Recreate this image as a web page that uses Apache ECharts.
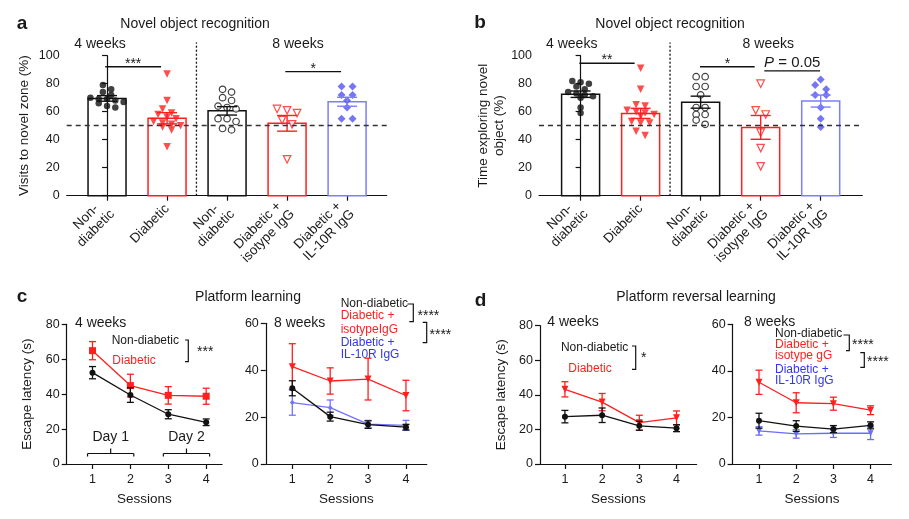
<!DOCTYPE html>
<html><head><meta charset="utf-8">
<script src="https://cdn.jsdelivr.net/npm/echarts@6/dist/echarts.min.js"></script>
<style>html,body{margin:0;padding:0;background:#fff}#c{width:909px;height:519px}</style>
</head><body><div id="c"></div>
<script>
// ================= DATA =================
const barLabels = ['Non-  \ndiabetic', 'Diabetic', 'Non-  \ndiabetic', 'Diabetic + \nisotype IgG', 'Diabetic + \nIL-10R IgG'];
const yTicksBar = [0, 20, 40, 60, 80, 100];
// Panel a: Visits to novel zone (%)
const aMean = [69.5, 55.3, 60.6, 51.7, 67.1];
const aSem  = [2.0, 4.0, 3.0, 5.6, 3.2];
const aNonDiab4 = [79, 76, 74, 72, 70, 69, 69, 68, 67, 66, 64, 63];
const aDiab4    = [87, 68, 62, 59, 58, 56, 55, 53, 52, 51, 50, 49, 47, 35];
const aNonDiab8 = [76, 74, 70, 68, 64, 63, 62, 55, 55, 53, 48, 47];
const aIso8     = [62, 61, 59, 54, 51, 26];
const aIl10r8   = [78, 78, 72, 72, 68, 63, 55, 55];
// Panel b: Time exploring novel object (%)
const bMean = [72.5, 58.8, 66.8, 48.8, 67.6];
const bSem  = [2.3, 3.6, 4.3, 8.5, 4.3];
const bNonDiab4 = [82, 81, 80, 78, 76, 74, 73, 72, 71, 70, 63, 59];
const bDiab4    = [91, 76, 65, 64, 61, 60, 59, 58, 57, 53, 52, 52, 46, 43];
const bNonDiab8 = [85, 85, 78, 78, 72, 63, 63, 58, 58, 54, 51];
const bIso8     = [80, 61, 58, 45, 34, 21];
const bIl10r8   = [83, 79, 76, 72, 72, 63, 55, 49];
// Panels c/d: escape latency (s) per session
const sessions = [1, 2, 3, 4];
const cNonDiab4 = [52.3, 39.5, 28.5, 23.9], cNonDiab4Sem = [3.5, 4.2, 2.6, 1.9];
const cDiab4    = [64.9, 44.9, 39.3, 38.8], cDiab4Sem    = [5.2, 6.5, 5.0, 4.6];
const cNonDiab8 = [32.3, 20.2, 16.8, 15.7], cNonDiab8Sem = [3.2, 1.9, 1.6, 1.2];
const cIso8     = [41.5, 35.4, 36.2, 29.2], cIso8Sem     = [9.8, 5.6, 8.9, 6.5];
const cIl10r8   = [26.2, 24.0, 17.0, 16.5], cIl10r8Sem   = [5.4, 3.3, 1.6, 2.1];
const dNonDiab4 = [27.4, 28.2, 22.1, 20.7], dNonDiab4Sem = [3.6, 4.2, 2.6, 2.0];
const dDiab4    = [43.2, 35.8, 23.9, 26.7], dDiab4Sem    = [4.4, 5.0, 4.3, 4.0];
const dNonDiab8 = [18.6, 16.3, 15.0, 16.6], dNonDiab8Sem = [3.2, 2.3, 1.5, 1.5];
const dIso8     = [35.1, 26.3, 25.9, 23.1], dIso8Sem     = [5.2, 4.3, 2.8, 1.9];
const dIl10r8   = [14.2, 12.9, 13.2, 13.2], dIl10r8Sem   = [1.8, 1.8, 1.8, 2.7];

// ================= STYLE / LAYOUT =================
const FONT = '"Liberation Sans", Arial, Helvetica, sans-serif';
const BLK = '#111111', RED = '#ff1f1f', BLU = '#5252f2', BLU_BAR = '#7d7dff', BLU_TXT = '#3434f5';
const TXT = '#1a1a1a';

const grids = [
  {left: 66.7, top: 55.7, width: 320, height: 140},    // a
  {left: 539, top: 55.7, width: 323.3, height: 140},   // b
  {left: 66.7, top: 324.3, width: 155.4, height: 139.7}, // c 4w
  {left: 265.8, top: 323.3, width: 161, height: 140.7},  // c 8w
  {left: 540, top: 325.7, width: 156.6, height: 138.3},  // d 4w
  {left: 732.6, top: 324.3, width: 158.8, height: 139.7} // d 8w
];
const xRanges = [[-0.672, 4.66], [-0.693, 4.693], [0.32, 4.42], [0.3, 4.55], [0.33, 4.54], [0.29, 4.56]];
const yMax = [100, 100, 80, 60, 80, 60];

const axisLineStyle = {color: BLK, width: 1.2};
const xAxes = [], yAxes = [];
grids.forEach((g, i) => {
  const isBar = i < 2;
  const ticks = isBar ? [0, 1, 2, 3, 4] : sessions;
  xAxes.push({
    gridIndex: i, type: 'value', min: xRanges[i][0], max: xRanges[i][1],
    axisLine: {show: true, lineStyle: axisLineStyle},
    axisTick: {show: true, customValues: ticks, length: 5, lineStyle: axisLineStyle},
    axisLabel: isBar ? {customValues: ticks, formatter: v => barLabels[Math.round(v)], rotate: 45,
                         fontSize: 13.5, lineHeight: 15, margin: 11, color: TXT, fontFamily: FONT}
                     : {customValues: ticks, formatter: v => String(Math.round(v)), fontSize: 12.5,
                        margin: 9, color: TXT, fontFamily: FONT},
    splitLine: {show: false},
    name: isBar ? '' : 'Sessions', nameLocation: 'middle', nameGap: 28,
    nameTextStyle: {fontSize: 13.5, color: TXT, fontFamily: FONT}
  });
  const names = ['Visits to novel zone (%)', 'Time exploring novel\nobject (%)', 'Escape latency (s)', '', 'Escape latency (s)', ''];
  const gaps = [34, 30, 31, 0, 31, 0];
  yAxes.push({
    gridIndex: i, type: 'value', min: 0, max: yMax[i], interval: 20,
    axisLine: {show: true, lineStyle: axisLineStyle},
    axisTick: {show: true, length: 5, lineStyle: axisLineStyle},
    axisLabel: {fontSize: 12.5, color: TXT, fontFamily: FONT, margin: 7},
    splitLine: {show: false},
    name: names[i], nameLocation: 'middle', nameGap: gaps[i], nameRotate: 90,
    nameTextStyle: {fontSize: 13.5, color: TXT, fontFamily: FONT, lineHeight: 16}
  });
});

// ================= HELPERS =================
function swarm(vals, xc, gi, dx) {
  const g = grids[gi];
  const pxPerX = g.width / (xRanges[gi][1] - xRanges[gi][0]);
  const pxPerY = g.height / yMax[gi];
  const rowGap = 5.5, maxRow = 5;
  const s = vals.slice().sort((a, b) => b - a);
  const rows = []; let cur = [];
  s.forEach(v => {
    if (cur.length && ((cur[0] - v) * pxPerY >= rowGap || cur.length >= maxRow)) { rows.push(cur); cur = []; }
    cur.push(v);
  });
  if (cur.length) rows.push(cur);
  const out = [];
  rows.forEach(r => r.forEach((v, k) => out.push([xc + (k - (r.length - 1) / 2) * dx / pxPerX, v])));
  return out;
}
function errRender(capPx, colorOf, lw) {
  return function (params, api) {
    const x = api.value(0), m = api.value(1), e = api.value(2);
    const t = api.coord([x, m + e]), b = api.coord([x, m - e]);
    const h = capPx / 2, c = colorOf(params.dataIndex);
    const st = {stroke: c, lineWidth: lw};
    return {type: 'group', children: [
      {type: 'line', shape: {x1: t[0], y1: t[1], x2: b[0], y2: b[1]}, style: st},
      {type: 'line', shape: {x1: t[0] - h, y1: t[1], x2: t[0] + h, y2: t[1]}, style: st},
      {type: 'line', shape: {x1: b[0] - h, y1: b[1], x2: b[0] + h, y2: b[1]}, style: st}
    ]};
  };
}

const series = [];
const barColors = [BLK, RED, BLK, RED, BLU_BAR];
const ptStyles = [
  {symbol: 'circle', symbolSize: 6.5, itemStyle: {color: BLK}},
  {symbol: 'triangle', symbolRotate: 180, symbolSize: 7.5, itemStyle: {color: RED}},
  {symbol: 'circle', symbolSize: 6.5, itemStyle: {color: '#fff', borderColor: BLK, borderWidth: 1.2}},
  {symbol: 'triangle', symbolRotate: 180, symbolSize: 7.5, itemStyle: {color: '#fff', borderColor: RED, borderWidth: 1.2}},
  {symbol: 'diamond', symbolSize: 8, itemStyle: {color: BLU}}
];
const swarmDx = [8.3, 9, 9, 10, 11];

function barPanel(gi, means, sems, groups, sigs) {
  series.push({
    type: 'custom', xAxisIndex: gi, yAxisIndex: gi, z: 2,
    data: means.map((m, i) => [i, m]),
    renderItem: (params, api) => {
      const x = api.value(0), m = api.value(1);
      const p0 = api.coord([x, 0]), p1 = api.coord([x, m]);
      const w = api.size([1, 0])[0] * 0.633;
      return {type: 'rect', shape: {x: p0[0] - w / 2, y: p1[1], width: w, height: p0[1] - p1[1]},
              style: {fill: 'none', stroke: barColors[params.dataIndex], lineWidth: 1.5}};
    },
    markLine: {silent: true, symbol: 'none', label: {show: false}, animation: false,
               lineStyle: {type: [5, 4], color: '#333', width: 1.3}, data: [{yAxis: 50}]}
  });
  groups.forEach((vals, i) => {
    series.push(Object.assign({type: 'scatter', xAxisIndex: gi, yAxisIndex: gi, z: 3,
                               data: swarm(vals, i, gi, swarmDx[i])}, ptStyles[i]));
  });
  series.push({
    type: 'custom', xAxisIndex: gi, yAxisIndex: gi, z: 4,
    data: means.map((m, i) => [i, m, sems[i]]),
    renderItem: errRender(20, i => barColors[i], 1.4)
  });
  // annotations: divider + significance bars
  series.push({
    type: 'custom', xAxisIndex: gi, yAxisIndex: gi, z: 5, silent: true,
    data: [[0]],
    renderItem: (params, api) => {
      const ch = [];
      const d0 = api.coord([1.49, 0]), d1 = api.coord([1.49, 109.5]);
      ch.push({type: 'line', shape: {x1: d0[0], y1: d0[1], x2: d1[0], y2: d1[1]},
               style: {stroke: '#111', lineWidth: 1.3, lineDash: [2, 2]}});
      sigs.forEach(s => {
        const p = api.coord([s[0], s[2]]), q = api.coord([s[1], s[2]]);
        ch.push({type: 'line', shape: {x1: p[0], y1: p[1], x2: q[0], y2: q[1]}, style: {stroke: '#111', lineWidth: 1.3}});
        ch.push({type: 'text', x: (p[0] + q[0]) / 2, y: p[1] - (s[3] === 'p' ? 8 : 3),
                 style: s[3] === 'p'
                   ? {text: '{i|P} = 0.05', rich: {i: {fontStyle: 'italic', fontSize: 15, fontFamily: FONT, fill: TXT}},
                      fontSize: 15, fontFamily: FONT, fill: TXT, align: 'center', verticalAlign: 'middle'}
                   : {text: s[3], fontSize: 14, fontFamily: FONT, fill: TXT, align: 'center', verticalAlign: 'middle'}});
      });
      return {type: 'group', children: ch};
    }
  });
}
barPanel(0, aMean, aSem, [aNonDiab4, aDiab4, aNonDiab8, aIso8, aIl10r8],
         [[-0.03, 0.9, 92.1, '***'], [2.97, 3.9, 88.6, '*']]);
barPanel(1, bMean, bSem, [bNonDiab4, bDiab4, bNonDiab8, bIso8, bIl10r8],
         [[-0.02, 0.9, 94.6, '**'], [1.99, 2.9, 92.1, '*'], [3.06, 3.99, 89.1, 'p']]);

function lineGroup(gi, means, sems, color, sym, size, rot, z) {
  series.push({type: 'custom', xAxisIndex: gi, yAxisIndex: gi, z: z,
               data: sessions.map((s, i) => [s, means[i], sems[i]]),
               renderItem: errRender(7, () => color, 1.3)});
  series.push({type: 'line', xAxisIndex: gi, yAxisIndex: gi, z: z + 0.5,
               data: sessions.map((s, i) => [s, means[i]]),
               symbol: sym, symbolSize: size, symbolRotate: rot || 0, showSymbol: true,
               lineStyle: {color: color, width: 1.3}, itemStyle: {color: color}});
}
lineGroup(2, cDiab4, cDiab4Sem, RED, 'rect', 7, 0, 2);
lineGroup(2, cNonDiab4, cNonDiab4Sem, BLK, 'circle', 6, 0, 3);
lineGroup(3, cIso8, cIso8Sem, RED, 'triangle', 7, 180, 2);
lineGroup(3, cIl10r8, cIl10r8Sem, '#7373ff', 'diamond', 5, 0, 2);
lineGroup(3, cNonDiab8, cNonDiab8Sem, BLK, 'circle', 6, 0, 3);
lineGroup(4, dDiab4, dDiab4Sem, RED, 'triangle', 7, 180, 2);
lineGroup(4, dNonDiab4, dNonDiab4Sem, BLK, 'circle', 6, 0, 3);
lineGroup(5, dIso8, dIso8Sem, RED, 'triangle', 7, 180, 2);
lineGroup(5, dIl10r8, dIl10r8Sem, '#6b6bff', 'triangle', 6, 180, 2);
lineGroup(5, dNonDiab8, dNonDiab8Sem, BLK, 'circle', 6, 0, 3);

// Day brackets (panel c, 4 weeks) in data coordinates
series.push({
  type: 'custom', xAxisIndex: 2, yAxisIndex: 2, z: 5, silent: true,
  data: [[0.87, 2.09, 'Day 1'], [2.87, 4.09, 'Day 2']],
  renderItem: (params, api) => {
    const a = api.coord([api.value(0), 6]), b = api.coord([api.value(1), 6]);
    const mid = (a[0] + b[0]) / 2, st = {stroke: '#111', lineWidth: 1.2};
    return {type: 'group', children: [
      {type: 'line', shape: {x1: a[0], y1: a[1], x2: b[0], y2: b[1]}, style: st},
      {type: 'line', shape: {x1: a[0], y1: a[1], x2: a[0], y2: a[1] + 3}, style: st},
      {type: 'line', shape: {x1: b[0], y1: b[1], x2: b[0], y2: b[1] + 3}, style: st},
      {type: 'line', shape: {x1: mid, y1: a[1], x2: mid, y2: a[1] - 5}, style: st},
      {type: 'text', x: mid, y: a[1] - 16, style: {text: api.value(2), fontSize: 14, fontFamily: FONT, fill: TXT, align: 'center', verticalAlign: 'middle'}}
    ]};
  }
});

// ================= TEXT ANNOTATIONS =================
function T(x, y, text, o) {
  o = o || {};
  return {type: 'text', x: x, y: y, silent: true, style: {text: text, fill: o.fill || TXT,
    font: (o.weight || 'normal') + ' ' + (o.size || 13.5) + 'px ' + FONT,
    textAlign: o.align || 'left', textVerticalAlign: 'middle'}};
}
function P(points, lw) {
  return {type: 'polyline', silent: true, shape: {points: points}, style: {stroke: '#111', lineWidth: lw || 1.2, fill: null}};
}
const LS = 12;
const graphic = [
  T(22, 24, 'a', {weight: 'bold', size: 19, align: 'center'}),
  T(480, 23, 'b', {weight: 'bold', size: 19, align: 'center'}),
  T(22, 297, 'c', {weight: 'bold', size: 19, align: 'center'}),
  T(480.5, 301, 'd', {weight: 'bold', size: 19, align: 'center'}),
  T(195, 24, 'Novel object recognition', {align: 'center', size: 14}),
  T(670, 24, 'Novel object recognition', {align: 'center', size: 14}),
  T(248, 297, 'Platform learning', {align: 'center', size: 14}),
  T(696, 297, 'Platform reversal learning', {align: 'center', size: 14}),
  T(100, 44, '4 weeks', {align: 'center', size: 14}),
  T(298, 44, '8 weeks', {align: 'center', size: 14}),
  T(571.7, 44, '4 weeks', {align: 'center', size: 14}),
  T(768.3, 44, '8 weeks', {align: 'center', size: 14}),
  // c 4 weeks
  T(75, 323, '4 weeks', {size: 14}),
  T(179, 340.7, 'Non-diabetic', {align: 'right', size: LS}),
  T(134, 361, 'Diabetic', {align: 'center', size: LS, fill: RED}),
  P([[185, 340], [188.3, 340], [188.3, 361.7], [185, 361.7]]),
  T(197, 352, '***', {size: 14}),
  // c 8 weeks
  T(274, 323, '8 weeks', {size: 14}),
  T(340.7, 304, 'Non-diabetic', {size: LS}),
  T(340.7, 316, 'Diabetic +', {size: LS, fill: RED}),
  T(340.7, 329.5, 'isotypeIgG', {size: LS, fill: RED}),
  T(340.7, 342.3, 'Diabetic +', {size: LS, fill: BLU_TXT}),
  T(340.7, 355, 'IL-10R IgG', {size: LS, fill: BLU_TXT}),
  P([[407.5, 304], [413.3, 304], [413.3, 321.7], [409.3, 321.7]]),
  T(417.5, 316.5, '****', {size: 14}),
  P([[422.7, 322.3], [426.7, 322.3], [426.7, 342.7], [422.7, 342.7]]),
  T(429.5, 335.5, '****', {size: 14}),
  // d 4 weeks
  T(547.3, 322, '4 weeks', {size: 14}),
  T(628.3, 347.3, 'Non-diabetic', {align: 'right', size: LS}),
  T(590, 369, 'Diabetic', {align: 'center', size: LS, fill: RED}),
  P([[632, 346], [635.7, 346], [635.7, 369.3], [632, 369.3]]),
  T(641, 358, '*', {size: 14}),
  // d 8 weeks
  T(744, 321.7, '8 weeks', {size: 14}),
  T(775, 333.3, 'Non-diabetic', {size: LS}),
  T(775, 345, 'Diabetic +', {size: LS, fill: RED}),
  T(775, 355.5, 'isotype gG', {size: LS, fill: RED}),
  T(775, 370, 'Diabetic +', {size: LS, fill: BLU_TXT}),
  T(775, 380.5, 'IL-10R IgG', {size: LS, fill: BLU_TXT}),
  P([[843.5, 335], [849.3, 335], [849.3, 350.7], [846, 350.7]]),
  T(852, 345.5, '****', {size: 14}),
  P([[860.3, 352.7], [864.3, 352.7], [864.3, 367.3], [860.3, 367.3]]),
  T(867, 362, '****', {size: 14})
];

const chart = echarts.init(document.getElementById('c'), null, {renderer: 'canvas', width: 909, height: 519});
chart.setOption({
  animation: false,
  backgroundColor: '#fff',
  textStyle: {fontFamily: FONT},
  grid: grids,
  xAxis: xAxes,
  yAxis: yAxes,
  series: series,
  graphic: graphic
});
</script></body></html>
